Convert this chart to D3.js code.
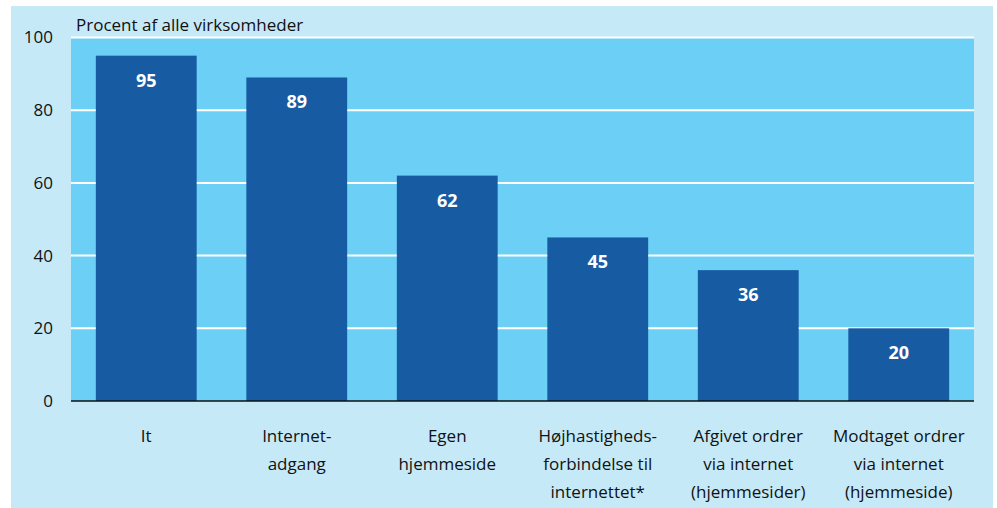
<!DOCTYPE html>
<html><head><meta charset="utf-8">
<script src="https://cdn.jsdelivr.net/npm/d3@7"></script>
<style>body{margin:0;background:#fff}svg{display:block}text{font-family:"Open Sans",sans-serif}</style>
</head><body><svg id="c" width="997" height="508"></svg>
<script>
const categories = [
  ["It"],
  ["Internet-", "adgang"],
  ["Egen", "hjemmeside"],
  ["Højhastigheds-", "forbindelse til", "internettet*"],
  ["Afgivet ordrer", "via internet", "(hjemmesider)"],
  ["Modtaget ordrer", "via internet", "(hjemmeside)"]
];
const values = [95, 89, 62, 45, 36, 20];
const yTicks = [0, 20, 40, 60, 80, 100];
const yTitle = "Procent af alle virksomheder";

const svg = d3.select("#c");
const m = {left: 71, right: 974, top: 37.5, bottom: 401};

svg.append("rect").attr("x", 11).attr("y", 6).attr("width", 982).attr("height", 502).attr("fill", "#c6e9f8");

const x = d3.scaleBand().domain(d3.range(categories.length)).range([m.left, m.right]).paddingInner(0.33).paddingOuter(0.165);
const y = d3.scaleLinear().domain([0, 100]).range([m.bottom, m.top]);

svg.append("rect").attr("x", m.left).attr("y", m.top).attr("width", m.right - m.left).attr("height", m.bottom - m.top).attr("fill", "#6ccff5");

svg.append("g").selectAll("line").data(yTicks.filter(d => d > 0)).join("line")
  .attr("x1", m.left).attr("x2", m.right).attr("y1", d => y(d)).attr("y2", d => y(d))
  .attr("stroke", "#fff").attr("stroke-width", 2);

const yAxis = d3.axisLeft(y).tickValues(yTicks).tickSize(0).tickPadding(18);
const ga = svg.append("g").attr("transform", `translate(${m.left},0)`).call(yAxis);
ga.select(".domain").remove();
ga.selectAll("text").attr("font-size", 17).attr("fill", "#111").attr("font-family", "Open Sans");

svg.append("g").selectAll("rect").data(values).join("rect")
  .attr("x", (d, i) => x(i)).attr("width", x.bandwidth())
  .attr("y", d => y(d)).attr("height", d => y(0) - y(d))
  .attr("fill", "#175ca3");

svg.append("g").selectAll("text").data(values).join("text")
  .attr("x", (d, i) => x(i) + x.bandwidth() / 2).attr("y", d => y(d) + 31)
  .attr("text-anchor", "middle").attr("fill", "#fff").attr("font-weight", "bold").attr("font-size", 18)
  .text(d => d);

svg.append("line").attr("x1", m.left).attr("x2", m.right).attr("y1", y(0)).attr("y2", y(0)).attr("stroke", "#111").attr("stroke-width", 1.5);

const xl = svg.append("g").selectAll("text").data(categories).join("text")
  .attr("text-anchor", "middle").attr("font-size", 17).attr("fill", "#111")
  .attr("x", (d, i) => x(i) + x.bandwidth() / 2);
xl.selectAll("tspan").data(d => d).join("tspan")
  .attr("x", function() { return this.parentNode.getAttribute("x"); })
  .attr("y", (d, j) => 442 + j * 28).text(d => d);

svg.append("text").attr("x", 76).attr("y", 31).attr("font-size", 17).attr("fill", "#111").text(yTitle);
</script></body></html>
